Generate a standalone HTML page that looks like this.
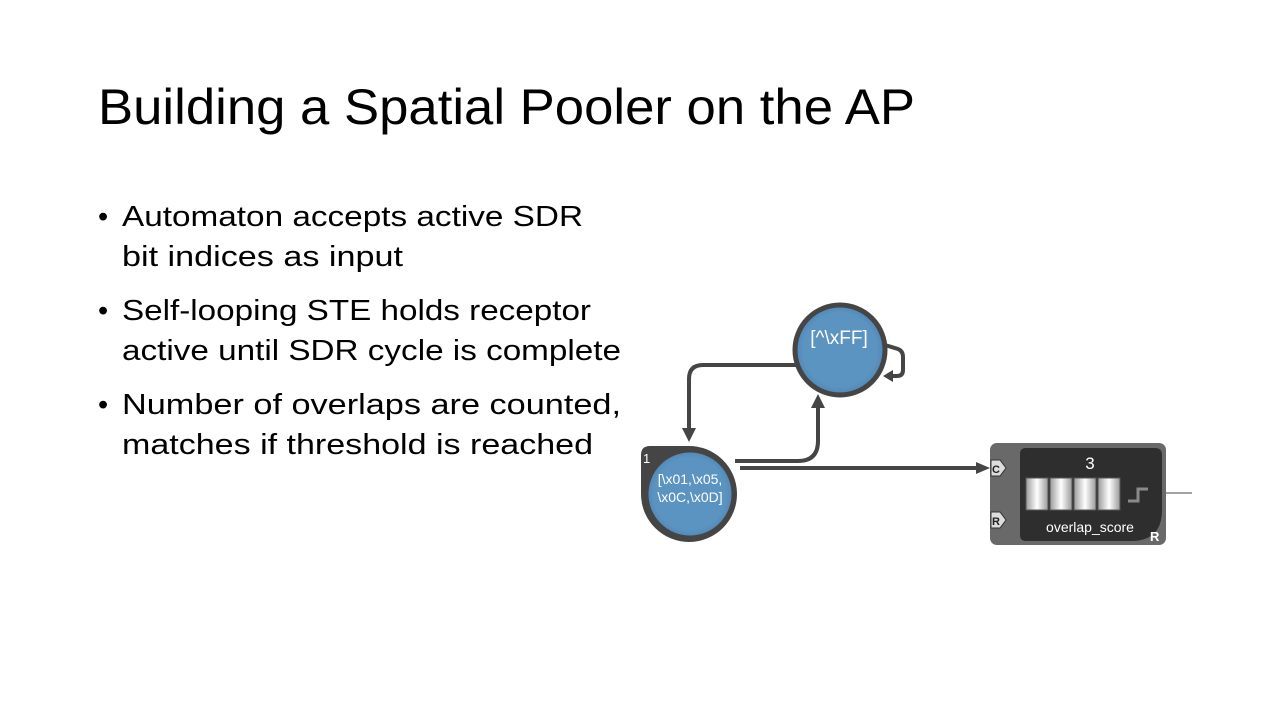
<!DOCTYPE html>
<html><head><meta charset="utf-8"><style>
body{margin:0;width:1280px;height:720px;background:#fff;overflow:hidden;font-family:"Liberation Sans","DejaVu Sans",sans-serif;}
</style></head><body>
<svg width="1280" height="720" viewBox="0 0 1280 720" xmlns="http://www.w3.org/2000/svg">
<defs>
<linearGradient id="cell" x1="0" y1="0" x2="1" y2="0">
<stop offset="0" stop-color="#9a9a9a"/><stop offset="0.5" stop-color="#ffffff"/><stop offset="1" stop-color="#9a9a9a"/></linearGradient>
<radialGradient id="ball" cx="50%" cy="50%" r="55%">
<stop offset="0.75" stop-color="#5b93c1"/><stop offset="1" stop-color="#4a7ea8"/></radialGradient>
</defs>
<text x="98" y="124" font-size="50" fill="#000" textLength="817" lengthAdjust="spacingAndGlyphs">Building a Spatial Pooler on the AP</text>
<g font-size="29" fill="#000">
<text x="98" y="226">•</text><text x="122" y="226" textLength="461" lengthAdjust="spacingAndGlyphs">Automaton accepts active SDR</text>
<text x="122" y="266" textLength="281" lengthAdjust="spacingAndGlyphs">bit indices as input</text>
<text x="98" y="320">•</text><text x="122" y="320" textLength="469" lengthAdjust="spacingAndGlyphs">Self-looping STE holds receptor</text>
<text x="122" y="360" textLength="499" lengthAdjust="spacingAndGlyphs">active until SDR cycle is complete</text>
<text x="98" y="414">•</text><text x="122" y="414" textLength="499" lengthAdjust="spacingAndGlyphs">Number of overlaps are counted,</text>
<text x="122" y="454" textLength="471" lengthAdjust="spacingAndGlyphs">matches if threshold is reached</text>
</g>
<g fill="none" stroke="#454545" stroke-width="4">
<path d="M796 365 H703 Q689 365 689 379 V432"/>
<path d="M735 461 H798 Q818 461 818 441 V404"/>
<path d="M740 468 H978"/>
<path d="M885 345 L898 349 Q903 351 903 357 V370 Q903 376 897 376 L890 376"/>
</g>
<g fill="#454545">
<polygon points="682,428 696,428 689,442"/>
<polygon points="811,408 825,408 818,394"/>
<polygon points="976,462 976,474 990,468"/>
<polygon points="893,370 893,382 883,376"/>
</g>
<circle cx="840" cy="350" r="45" fill="url(#ball)" stroke="#454545" stroke-width="5"/>
<text x="839" y="344" font-size="19" fill="#fff" text-anchor="middle">[^\xFF]</text>
<path d="M641 494 V455 Q641 446 650 446 H688 A48 48 0 1 1 641 494 Z" fill="#454545"/>
<circle cx="690" cy="494" r="44" fill="url(#ball)" stroke="#454545" stroke-width="5"/>
<text x="643" y="463" font-size="13" fill="#fff">1</text>
<text x="690" y="484" font-size="14" fill="#fff" text-anchor="middle">[\x01,\x05,</text>
<text x="690" y="502" font-size="14" fill="#fff" text-anchor="middle">\x0C,\x0D]</text>
<rect x="990" y="443" width="176" height="102" rx="7" fill="#696969"/>
<path d="M1026 448 H1155 Q1162 448 1162 455 V510 Q1162 541 1131 541 H1026 Q1020 541 1020 535 V454 Q1020 448 1026 448 Z" fill="#2e2e2e"/>
<text x="1090" y="469" font-size="17" fill="#fff" text-anchor="middle">3</text>
<g stroke="#555" stroke-width="1">
<rect x="1026" y="478" width="22" height="32" fill="url(#cell)"/>
<rect x="1050" y="478" width="22" height="32" fill="url(#cell)"/>
<rect x="1074" y="478" width="22" height="32" fill="url(#cell)"/>
<rect x="1098" y="478" width="22" height="32" fill="url(#cell)"/>
</g>
<path d="M1128 501 H1138 V489 H1148" fill="none" stroke="#8a8a8a" stroke-width="3"/>
<text x="1090" y="532" font-size="14" fill="#fff" text-anchor="middle">overlap_score</text>
<text x="1150" y="541" font-size="13" font-weight="bold" fill="#fff">R</text>
<path d="M991 460 H1000 L1006 468 L1000 476 H991 Z" fill="#ddd" stroke="#333" stroke-width="1"/>
<text x="992" y="473" font-size="11" font-weight="bold" fill="#222">C</text>
<path d="M991 512 H1000 L1006 520 L1000 528 H991 Z" fill="#ddd" stroke="#333" stroke-width="1"/>
<text x="992" y="525" font-size="11" font-weight="bold" fill="#222">R</text>
<line x1="1166" y1="493" x2="1192" y2="493" stroke="#444" stroke-width="1"/>
</svg>
</body></html>
